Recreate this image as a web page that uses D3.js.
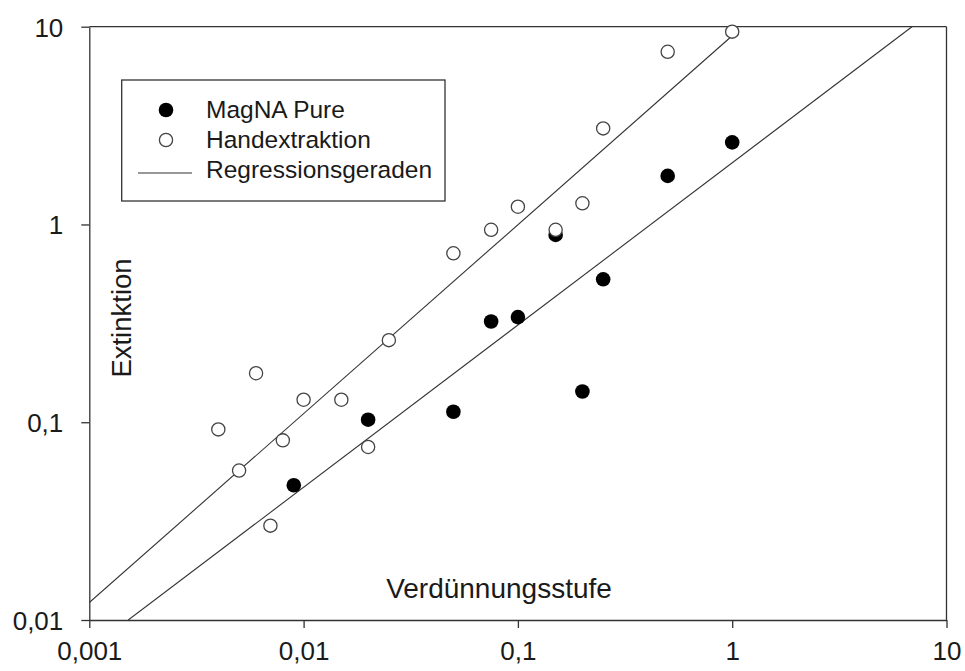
<!DOCTYPE html>
<html>
<head>
<meta charset="utf-8">
<script src="https://cdn.jsdelivr.net/npm/d3@7"></script>
<style>
  html, body { margin: 0; padding: 0; background: #fff; }
  svg { display: block; font-family: "Liberation Sans", Arial, sans-serif; }
</style>
</head>
<body>
<svg id="chart" width="965" height="671"></svg>
<script>
// ---- data ----
const magnaX = [0.009, 0.02, 0.05, 0.075, 0.1, 0.15, 0.2, 0.25, 0.5, 1];
const magnaY = [0.048, 0.103, 0.113, 0.323, 0.34, 0.885, 0.143, 0.528, 1.76, 2.6];

const handX = [0.004, 0.005, 0.006, 0.007, 0.008, 0.01, 0.015, 0.02, 0.025, 0.05, 0.075, 0.1, 0.15, 0.2, 0.25, 0.5, 1];
const handY = [0.092, 0.057, 0.177, 0.030, 0.081, 0.130, 0.130, 0.075, 0.26, 0.715, 0.94, 1.23, 0.94, 1.28, 3.06, 7.47, 9.44];

// regression lines (endpoints)
const regHandX = [0.001, 1];
const regHandY = [0.01225, 9.0];
const regMagnaX = [0.00152, 6.9];
const regMagnaY = [0.01, 10];

const xTickValues = [0.001, 0.01, 0.1, 1, 10];
const xTickLabels = ["0,001", "0,01", "0,1", "1", "10"];
const yTickValues = [0.01, 0.1, 1, 10];
const yTickLabels = ["0,01", "0,1", "1", "10"];

const legendLabels = ["MagNA Pure", "Handextraktion", "Regressionsgeraden"];
const xTitle = "Verdünnungsstufe";
const yTitle = "Extinktion";

// ---- layout ----
const svg = d3.select("#chart");
const L = 89.3, T = 26.7, R = 946.5, B = 620;
const x = d3.scaleLog().domain([0.001, 10]).range([L, R]);
const y = d3.scaleLog().domain([0.01, 10]).range([B, T]);
const ink = "#1a1a1a";

// clip
svg.append("defs").append("clipPath").attr("id", "plotclip")
  .append("rect").attr("x", L).attr("y", T).attr("width", R - L).attr("height", B - T);

// frame (top & right)
svg.append("line").attr("x1", L).attr("x2", R).attr("y1", T).attr("y2", T)
  .attr("stroke", "#333").attr("stroke-width", 1.3);
svg.append("line").attr("x1", R).attr("x2", R).attr("y1", T).attr("y2", B)
  .attr("stroke", "#333").attr("stroke-width", 1.3);

// axes
const xAxis = d3.axisBottom(x).tickValues(xTickValues)
  .tickFormat((d, i) => xTickLabels[i]).tickSize(8).tickSizeOuter(0).tickPadding(14);
const yAxis = d3.axisLeft(y).tickValues(yTickValues)
  .tickFormat((d, i) => yTickLabels[i]).tickSize(8).tickSizeOuter(0).tickPadding(18);

const gx = svg.append("g").attr("transform", `translate(0,${B})`).call(xAxis);
const gy = svg.append("g").attr("transform", `translate(${L},0)`).call(yAxis);
[gx, gy].forEach(g => {
  g.select(".domain").attr("stroke", "#333").attr("stroke-width", 1.3);
  g.selectAll(".tick line").attr("stroke", "#333").attr("stroke-width", 1.3);
  g.selectAll(".tick text").attr("fill", ink).attr("font-size", 26)
    .attr("font-family", "'Liberation Sans', Arial, sans-serif");
});
gy.selectAll(".tick text").attr("dy", "0.36em");

// axis titles
svg.append("text").attr("x", 499).attr("y", 598).attr("text-anchor", "middle")
  .attr("font-size", 28).attr("fill", ink).text(xTitle);
svg.append("text").attr("transform", "translate(131,318) rotate(-90)")
  .attr("text-anchor", "middle").attr("font-size", 27.5).attr("fill", ink).text(yTitle);

// regression lines
const plot = svg.append("g").attr("clip-path", "url(#plotclip)");
const lineGen = d3.line().x(d => x(d[0])).y(d => y(d[1]));
plot.append("path").datum(regHandX.map((v, i) => [v, regHandY[i]]))
  .attr("d", lineGen).attr("fill", "none").attr("stroke", "#333").attr("stroke-width", 1.1);
plot.append("path").datum(regMagnaX.map((v, i) => [v, regMagnaY[i]]))
  .attr("d", lineGen).attr("fill", "none").attr("stroke", "#333").attr("stroke-width", 1.1);

// points
svg.append("g").selectAll("circle").data(magnaX.map((v, i) => [v, magnaY[i]]))
  .join("circle").attr("cx", d => x(d[0])).attr("cy", d => y(d[1])).attr("r", 7.3)
  .attr("fill", "#000");
svg.append("g").selectAll("circle").data(handX.map((v, i) => [v, handY[i]]))
  .join("circle").attr("cx", d => x(d[0])).attr("cy", d => y(d[1])).attr("r", 6.6)
  .attr("fill", "#fff").attr("stroke", "#444").attr("stroke-width", 1.3);

// legend
const lg = svg.append("g");
lg.append("rect").attr("x", 121.7).attr("y", 80).attr("width", 323.3).attr("height", 121)
  .attr("fill", "#fff").attr("stroke", "#333").attr("stroke-width", 1.3);
lg.append("circle").attr("cx", 166).attr("cy", 110).attr("r", 7.3).attr("fill", "#000");
lg.append("circle").attr("cx", 166).attr("cy", 140).attr("r", 6.6)
  .attr("fill", "#fff").attr("stroke", "#444").attr("stroke-width", 1.3);
lg.append("line").attr("x1", 138).attr("x2", 192).attr("y1", 173).attr("y2", 173)
  .attr("stroke", "#333").attr("stroke-width", 1.1);
legendLabels.forEach((t, i) => {
  lg.append("text").attr("x", 206).attr("y", 118 + i * 30).attr("font-size", 24.5)
    .attr("fill", ink).text(t);
});
</script>
</body>
</html>
